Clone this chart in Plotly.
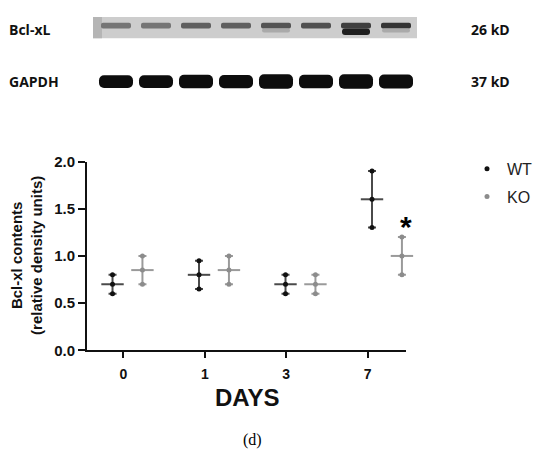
import plotly.graph_objects as go

# ---------------------------------------------------------------------------
# Data
# ---------------------------------------------------------------------------
DAYS = ["0", "1", "3", "7"]

WT_MEAN = [0.70, 0.80, 0.70, 1.60]
WT_LOW = [0.60, 0.65, 0.60, 1.30]
WT_HIGH = [0.80, 0.95, 0.80, 1.90]

KO_MEAN = [0.85, 0.85, 0.70, 1.00]
KO_LOW = [0.70, 0.70, 0.60, 0.80]
KO_HIGH = [1.00, 1.00, 0.80, 1.20]

# western blot lanes (darkness 0..1)
LANES = [0, 1, 2, 3, 4, 5, 6, 7]
BCL_UPPER = [0.55, 0.55, 0.65, 0.65, 0.70, 0.72, 0.80, 0.85]
BCL_LOWER = [0.0, 0.0, 0.0, 0.0, 0.30, 0.0, 0.95, 0.30]
GAPDH = [0.80, 0.80, 0.90, 0.85, 1.00, 0.90, 1.00, 0.95]

WT_COLOR = "#111111"
WT_LINE = "#4a4a4a"
KO_COLOR = "#8c8c8c"
KO_LINE = "#9a9a9a"
FONT = "Liberation Sans, Arial, sans-serif"

W, H = 550, 465
PAGE_OFFSET = 8  # the page body margin shifts the figure by 8px


def px_x(p):
    return (p - PAGE_OFFSET) / W


def px_y(p):
    return 1 - (p - PAGE_OFFSET) / H


def gray(d):
    v = int(round(235 - 215 * d))
    return f"rgb({v},{v},{v})"


fig = go.Figure()

# ---------------------------------------------------------------------------
# Blot strip (top)
# ---------------------------------------------------------------------------
fig.add_shape(type="rect", xref="x3", yref="y3", x0=-0.575, x1=7.525, y0=8, y1=30,
              fillcolor="#cdcdcd", line=dict(width=0), layer="below")
fig.add_shape(type="rect", xref="x3", yref="y3", x0=-0.575, x1=-0.35, y0=8, y1=30,
              fillcolor="#b5b5b5", line=dict(width=0), layer="below")

fig.add_trace(go.Bar(
    x=LANES, y=[6] * len(LANES), base=[14] * len(LANES), width=0.75,
    marker=dict(color=[gray(d) for d in BCL_UPPER], cornerradius=3, line=dict(width=0)),
    xaxis="x3", yaxis="y3", showlegend=False, hoverinfo="skip",
))
fig.add_trace(go.Bar(
    x=LANES, y=[3 + 4 * d for d in BCL_LOWER], base=[20] * len(LANES), width=0.7,
    marker=dict(color=[gray(d) if d > 0 else "rgba(0,0,0,0)" for d in BCL_LOWER],
                cornerradius=3, line=dict(width=0)),
    xaxis="x3", yaxis="y3", showlegend=False, hoverinfo="skip",
))
fig.add_trace(go.Bar(
    x=LANES, y=[6 + 9 * d for d in GAPDH], base=[75 - (6 + 9 * d) / 2 for d in GAPDH],
    width=0.85,
    marker=dict(color="#0d0d0d", cornerradius=5, line=dict(width=0)),
    xaxis="x3", yaxis="y3", showlegend=False, hoverinfo="skip",
))

# invisible trace so the tick axis (x) gets drawn
fig.add_trace(go.Scatter(
    x=list(range(len(DAYS))), y=[0] * len(DAYS), mode="markers",
    marker=dict(opacity=0), xaxis="x", yaxis="y", showlegend=False, hoverinfo="skip",
))

# ---------------------------------------------------------------------------
# Dot plot with mean and range
# ---------------------------------------------------------------------------
groups = [
    ("WT", WT_MEAN, WT_LOW, WT_HIGH, -0.173, WT_COLOR, WT_LINE),
    ("KO", KO_MEAN, KO_LOW, KO_HIGH, 0.173, KO_COLOR, KO_LINE),
]
for name, mean, low, high, off, color, lcolor in groups:
    xs = [i + off for i in range(len(DAYS))]
    fig.add_trace(go.Scatter(
        x=xs, y=mean, mode="markers", xaxis="x2", yaxis="y",
        marker=dict(symbol="line-ew", size=16, color=lcolor,
                    line=dict(color=lcolor, width=2)),
        error_y=dict(type="data", symmetric=False,
                     array=[h - m for h, m in zip(high, mean)],
                     arrayminus=[m - lo for m, lo in zip(mean, low)],
                     color=lcolor, thickness=2, width=4),
        showlegend=False, cliponaxis=False,
        hovertemplate=f"{name}<br>mean %{{y:.2f}}<extra></extra>",
    ))
    fig.add_trace(go.Scatter(
        x=xs * 3, y=low + mean + high, mode="markers", xaxis="x2", yaxis="y",
        marker=dict(symbol="circle", size=5, color=color),
        name=name, legendgroup=name, cliponaxis=False,
    ))

fig.add_annotation(x=3 + 0.173, y=KO_HIGH[3], xref="x2", yref="y", text="<b>*</b>",
                   showarrow=False, yshift=11, xshift=4, font=dict(family=FONT, size=30, color="#000"))

# ---------------------------------------------------------------------------
# Text
# ---------------------------------------------------------------------------
blot_font = dict(family="Open Sans, Liberation Sans, sans-serif", size=14, color="#111")
for txt, x, y, anchor in [("Bcl-xL", 7, 21, "left"), ("GAPDH", 7, 75, "left"),
                          ("26 kD", 512, 21, "right"), ("37 kD", 512, 75, "right")]:
    fig.add_annotation(x=px_x(x), y=px_y(y), xref="paper", yref="paper", text=f"<b>{txt}</b>",
                       showarrow=False, xanchor=anchor, yanchor="middle", font=blot_font)

fig.add_annotation(x=px_x(27), y=px_y(256), xref="paper", yref="paper",
                   text="<b>Bcl-xl contents<br>(relative density units)</b>",
                   textangle=-90, showarrow=False, xanchor="center", yanchor="middle",
                   font=dict(family=FONT, size=15, color="#111"))
fig.add_annotation(x=px_x(247), y=px_y(403), xref="paper", yref="paper", text="<b>DAYS</b>",
                   showarrow=False, xanchor="center", yanchor="middle",
                   font=dict(family=FONT, size=24, color="#111"))
fig.add_annotation(x=px_x(252), y=px_y(447), xref="paper", yref="paper", text="(d)",
                   showarrow=False, xanchor="center", yanchor="middle",
                   font=dict(family="Liberation Serif, Times New Roman, serif", size=16, color="#000"))

axis_line = dict(showline=True, linecolor="#111", linewidth=2, ticks="outside",
                 tickcolor="#111", tickwidth=2, showgrid=False, zeroline=False)

fig.update_layout(
    width=W, height=H,
    margin=dict(l=0, r=0, t=0, b=0),
    paper_bgcolor="white", plot_bgcolor="white",
    barmode="overlay",
    xaxis=dict(domain=[px_x(87), px_x(406)], range=[-0.446, 3.47], anchor="y",
               tickvals=[0, 1, 2, 3], ticktext=DAYS, ticklen=6, ticklabelstandoff=4,
               tickfont=dict(family=FONT, size=14, color="#111", weight="bold"), **axis_line),
    xaxis2=dict(overlaying="x", anchor="y", range=[-0.468, 3.22], visible=False),
    yaxis=dict(domain=[px_y(354), px_y(158)], range=[0, 2], anchor="x",
               tickvals=[0, 0.5, 1.0, 1.5, 2.0], tickformat=".1f", ticklen=7,
               tickfont=dict(family=FONT, size=15, color="#111", weight="bold"), **axis_line),
    xaxis3=dict(domain=[px_x(93), px_x(417)], range=[-0.575, 7.525], anchor="y3", visible=False),
    yaxis3=dict(domain=[px_y(100), 1], range=[100, 8], anchor="x3", visible=False),
    showlegend=True,
    legend=dict(x=px_x(467), y=px_y(148), xanchor="left", yanchor="top",
                font=dict(family=FONT, size=16, color="#222"),
                traceorder="grouped", tracegroupgap=4, bgcolor="rgba(0,0,0,0)"),
)

fig.write_html("out.html")
